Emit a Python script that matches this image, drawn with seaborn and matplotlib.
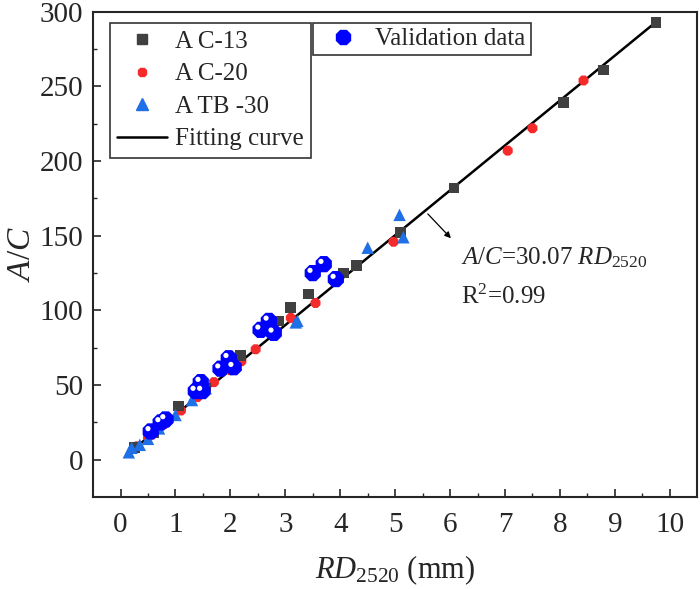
import numpy as np
import pandas as pd
import matplotlib.pyplot as plt
import matplotlib.transforms as mtransforms
from matplotlib.lines import Line2D
import seaborn as sns

# data
ac13_x = [0.25, 0.6, 1.05, 1.55, 2.19, 2.87, 3.1, 3.42, 4.06, 4.3, 5.1, 6.07, 8.07, 8.8, 9.75]
ac13_y = [8, 18, 36, 48, 70, 93, 102, 111, 125, 130, 152, 182, 239, 261, 293]

ac20_x = [0.3, 0.5, 0.8, 1.1, 1.4, 1.7, 2.0, 2.2, 2.46, 2.8, 3.1, 3.55, 4.97, 7.05, 7.5, 8.43]
ac20_y = [9, 15, 24, 33, 42, 52, 60, 66, 74, 86, 95, 105, 146, 207, 222, 254]

atb30_x = [0.15, 0.2, 0.35, 0.5, 0.7, 1.0, 1.3, 1.55, 2.1, 3.19, 3.22, 4.5, 5.08, 5.15]
atb30_y = [5, 8, 10, 14, 21, 30, 40, 48, 64, 92, 93, 142, 164, 149]

val_x = [0.55, 0.73, 0.82, 1.37, 1.46, 1.49, 1.82, 1.97, 2.06, 2.55, 2.7, 2.79, 3.5, 3.7, 3.92]
val_y = [19, 25, 27, 46, 52, 46, 61, 68, 62, 87, 93, 85, 125, 131, 121]

slope = 30.07
fit_x = [0.2, 9.75]

sns.set_style("ticks")
plt.rcParams['font.family'] = ['Liberation Serif', 'DejaVu Serif']
plt.rcParams['mathtext.fontset'] = 'custom'
plt.rcParams['mathtext.rm'] = 'Liberation Serif'
plt.rcParams['mathtext.it'] = 'Liberation Serif:italic'

fig = plt.figure(figsize=(7, 5.89), dpi=100)
ax = fig.add_axes([0.133, 0.156, 0.863, 0.824])

c13, c20, c30, cval = '#404040', '#f52a2a', '#1f6fe6', '#0000ff'

fit_df = pd.DataFrame({'x': fit_x, 'y': [slope * v for v in fit_x]})
sns.lineplot(data=fit_df, x='x', y='y', color='black', lw=1.8, ax=ax, zorder=2)

sns.scatterplot(x=ac20_x, y=ac20_y, marker='8', s=60, color=c20, edgecolor='none', ax=ax, zorder=3)
sns.scatterplot(x=ac13_x, y=ac13_y, marker='s', s=60, color=c13, edgecolor='none', ax=ax, zorder=3)
sns.scatterplot(x=atb30_x, y=atb30_y, marker='^', s=80, color=c30, edgecolor='none', ax=ax, zorder=3)
sns.scatterplot(x=val_x, y=val_y, marker='8', s=160, color=cval, edgecolor='none', ax=ax, zorder=4)
# white highlight on validation markers
shift = mtransforms.ScaledTranslation(-2 / 72, 2 / 72, fig.dpi_scale_trans)
ax.scatter(val_x, val_y, s=14, color='white', edgecolor='none', zorder=5,
           transform=ax.transData + shift)

ax.set_xlim(-0.5, 10.5)
ax.set_ylim(-25, 300)
ax.set_xticks(range(0, 11))
ax.set_yticks(range(0, 301, 50))
ax.set_xticks(np.arange(0.5, 10.5, 1), minor=True)
ax.set_yticks(np.arange(25, 300, 50), minor=True)
ax.tick_params(which='major', direction='in', length=6, width=1.2, labelsize=21, pad=7)
ax.tick_params(axis='x', which='major', pad=11)
ax.tick_params(which='minor', direction='in', length=3, width=1.0)
for sp in ax.spines.values():
    sp.set_visible(True)
    sp.set_linewidth(1.5)

ax.set_xlabel(r'$\mathit{RD}_{2520}$ (mm)', fontsize=22, labelpad=11)
ax.set_ylabel(r'$\mathit{A/C}$', fontsize=24, labelpad=2)

ax.annotate('', xy=(6.05, 147), xytext=(5.56, 166),
            arrowprops=dict(arrowstyle='-|>', color='black', lw=0.9, mutation_scale=9))
ax.text(6.19, 135, r'$\mathit{A/C}$=30.07 $\mathit{RD}_{2520}$', fontsize=18, va='center')
ax.text(6.19, 109, r'R$^2$=0.99', fontsize=18, va='center')

h1 = [
    Line2D([], [], marker='s', ls='none', color=c13, markersize=7),
    Line2D([], [], marker='8', ls='none', color=c20, markersize=7),
    Line2D([], [], marker='^', ls='none', color=c30, markersize=8),
    Line2D([], [], color='black', lw=1.8),
]
leg1 = fig.legend(h1, ['A C-13', 'A C-20', 'A TB -30', 'Fitting curve'],
                  loc='upper left', bbox_to_anchor=(0.157, 0.961), fontsize=18,
                  frameon=True, fancybox=False, edgecolor='black', handlelength=2.0,
                  handletextpad=0.3, labelspacing=0.4, borderpad=0.3, borderaxespad=0)
leg1.get_frame().set_linewidth(1.2)
h2 = [Line2D([], [], marker='8', ls='none', color=cval, markersize=11)]
leg2 = fig.legend(h2, ['Validation data'], loc='upper left', bbox_to_anchor=(0.447, 0.961),
                  fontsize=18, frameon=True, fancybox=False, edgecolor='black',
                  handlelength=2.0, handletextpad=0.3, borderpad=0.2, borderaxespad=0)
leg2.get_frame().set_linewidth(1.2)

fig.savefig('out.png', dpi=100)
